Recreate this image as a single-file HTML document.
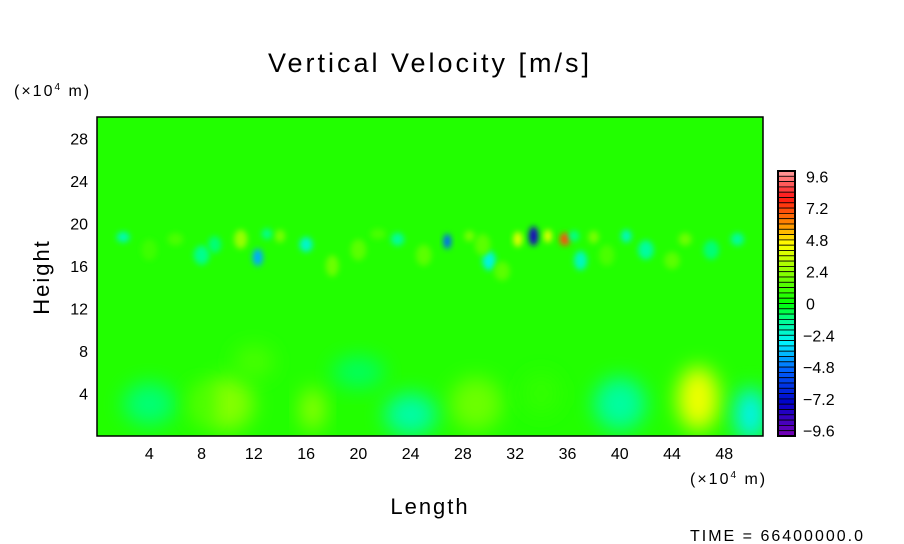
<!DOCTYPE html>
<html><head><meta charset="utf-8"><style>
body{margin:0;background:#fff;width:904px;height:544px;overflow:hidden}
svg{display:block}
text{font-family:"Liberation Sans",sans-serif;fill:#000}
</style></head><body>
<svg id="chart" width="904" height="544">
<defs>
<filter id="bl" x="-50%" y="-50%" width="200%" height="200%"><feGaussianBlur stdDeviation="3"/></filter>
<filter id="bl2" x="-50%" y="-50%" width="200%" height="200%"><feGaussianBlur stdDeviation="10"/></filter>
<clipPath id="clip"><rect x="97" y="117" width="666" height="319"/></clipPath>
</defs>
<text x="430" y="72" font-size="27" letter-spacing="3" text-anchor="middle">Vertical Velocity [m/s]</text>
<text x="14" y="96" font-size="16" letter-spacing="2">(×10<tspan font-size="10" dy="-6">4</tspan><tspan dy="6"> m)</tspan></text>
<text x="690" y="484" font-size="16" letter-spacing="2">(×10<tspan font-size="10" dy="-6">4</tspan><tspan dy="6"> m)</tspan></text>
<text x="430" y="514" font-size="22" letter-spacing="2" text-anchor="middle">Length</text>
<text transform="translate(49,277) rotate(-90)" font-size="22" letter-spacing="2" text-anchor="middle">Height</text>
<text x="690" y="541" font-size="16" letter-spacing="2">TIME = 66400000.0</text>
<g id="field" clip-path="url(#clip)"></g>
<rect x="97" y="117" width="666" height="319" fill="none" stroke="#000" stroke-width="1.5"/>
<g id="xt"></g><g id="yt"></g><g id="cb"></g>
</svg>
<script>
const xTicks=[4,8,12,16,20,24,28,32,36,40,44,48];
const yTicks=[4,8,12,16,20,24,28];
const cbTicks=[9.6,7.2,4.8,2.4,0,-2.4,-4.8,-7.2,-9.6];
// broad lower-level features: x, y, value, rx, ry (data units)
const lowX=[10,16.5,29,46,50,24,4,40,12,8,34,20];
const lowY=[3,2.5,3,3.5,2,2,3,3,7,3,4,6];
const lowV=[2.2,2.5,1.8,4.2,-2.8,-1.6,-1,-1.5,1.2,1.3,0.8,-0.8];
const lowRX=[2,0.9,2,1.6,1.2,2,2,2,1.5,1,1.5,2];
const lowRY=[2.5,2,2.5,3,2.5,2,2,2.5,1.5,2,2,1.5];
// upper band features
const upX=[33.4,35.8,34.5,32.2,26.8,12.3,11,16,14,20,23,30,38,42,45,6,2,49,28.5,37,31,18,8,40.5,44,4,9,21.5,25,36.5,39,47,13,29.5];
const upY=[18.8,18.5,18.8,18.5,18.3,16.8,18.5,18,18.8,17.5,18.5,16.5,18.7,17.5,18.5,18.5,18.7,18.5,18.8,16.5,15.5,16,17,18.8,16.5,17.5,18,19,17,18.8,17,17.5,19,18];
const upV=[-8,7,4.2,4,-5,-4,2.6,-2.2,2,1.5,-1.5,-2.5,2,-1.5,1.8,1.2,-1.8,-1.5,2,-2,1.5,1.8,-1.2,-2,1.5,1,-1,1.2,1.5,-1.2,1.2,-1,-1.2,1.5];
const upRX=[0.35,0.4,0.3,0.35,0.3,0.4,0.5,0.5,0.4,0.6,0.5,0.5,0.4,0.6,0.5,0.6,0.5,0.5,0.4,0.5,0.6,0.5,0.6,0.4,0.6,0.6,0.5,0.6,0.6,0.4,0.6,0.6,0.4,0.6];
const upRY=[0.9,0.6,0.6,0.7,0.7,0.8,0.9,0.7,0.6,1,0.6,0.9,0.6,0.9,0.6,0.6,0.5,0.6,0.5,0.9,0.9,1,0.9,0.6,0.8,1,0.8,0.5,1,0.5,1,0.9,0.5,1];
const X0=97,X1=763,Y0=436,Y1=117,XMAX=50.96,YMAX=30;
const sx=v=>X0+v/XMAX*(X1-X0), sy=v=>Y0-v/YMAX*(Y0-Y1);
const ns="http://www.w3.org/2000/svg";
function col(v){
  const t=Math.max(-1,Math.min(1,v/10));
  const stops=[[-1,[120,0,180]],[-0.75,[0,0,200]],[-0.5,[0,100,255]],[-0.3,[0,240,255]],[-0.12,[0,255,140]],[0,[0,255,0]],[0.2,[120,255,0]],[0.45,[255,255,0]],[0.6,[255,140,0]],[0.8,[255,20,20]],[1,[255,160,160]]];
  for(let i=1;i<stops.length;i++){if(t<=stops[i][0]){const a=stops[i-1],b=stops[i],f=(t-a[0])/(b[0]-a[0]);return 'rgb('+a[1].map((c,k)=>Math.round(c+(b[1][k]-c)*f)).join(',')+')';}}
  return 'rgb(255,160,160)';
}
const f=document.getElementById('field');
const bg=document.createElementNS(ns,'rect');
bg.setAttribute('x',97);bg.setAttribute('y',117);bg.setAttribute('width',666);bg.setAttribute('height',319);bg.setAttribute('fill','#22ff00');


f.appendChild(bg);
function blob(x,y,v,rx,ry,filt,name){
  const e=document.createElementNS(ns,'ellipse');
  e.setAttribute('cx',sx(x));e.setAttribute('cy',sy(y));
  e.setAttribute('rx',rx/XMAX*666);e.setAttribute('ry',ry/YMAX*319);
  e.setAttribute('fill',col(v));e.setAttribute('filter',filt);
  
  
  f.appendChild(e);
}
lowX.forEach((x,i)=>blob(x,lowY[i],lowV[i],lowRX[i],lowRY[i],'url(#bl2)','low-feature'));
upX.forEach((x,i)=>blob(x,upY[i],upV[i],upRX[i],upRY[i],'url(#bl)','upper-feature'));
const xt=document.getElementById('xt');
xTicks.forEach(v=>{const t=document.createElementNS(ns,'text');t.setAttribute('x',sx(v));t.setAttribute('y',459);t.setAttribute('font-size','16');t.setAttribute('text-anchor','middle');t.textContent=v;


xt.appendChild(t);});
const yt=document.getElementById('yt');
yTicks.forEach(v=>{const t=document.createElementNS(ns,'text');t.setAttribute('x',88);t.setAttribute('y',sy(v)+6);t.setAttribute('font-size','16');t.setAttribute('text-anchor','end');t.textContent=v;


yt.appendChild(t);});
const cb=document.getElementById('cb');
const CT=171,CB=436,N=50;
const ch=(CB-CT)/N;
for(let i=0;i<N;i++){const v=10-(i+0.5)*20/N;const r=document.createElementNS(ns,'rect');r.setAttribute('x',778);r.setAttribute('y',CT+i*ch);r.setAttribute('width',17);r.setAttribute('height',ch);r.setAttribute('fill',col(v));r.setAttribute('stroke','#000');r.setAttribute('stroke-width','0.8');


cb.appendChild(r);}
const fr=document.createElementNS(ns,'rect');fr.setAttribute('x',778);fr.setAttribute('y',CT);fr.setAttribute('width',17);fr.setAttribute('height',CB-CT);fr.setAttribute('fill','none');fr.setAttribute('stroke','#000');fr.setAttribute('stroke-width','2');


cb.appendChild(fr);
cbTicks.forEach(v=>{const t=document.createElementNS(ns,'text');const y=CT+(10-v)/20*(CB-CT);t.setAttribute('x',v<0?803:806);t.setAttribute('y',y+6);t.setAttribute('font-size','16');t.textContent=v<0?'\u2212'+Math.abs(v):(v===0?'0':v.toFixed(1));


cb.appendChild(t);});
</script>
</body></html>
